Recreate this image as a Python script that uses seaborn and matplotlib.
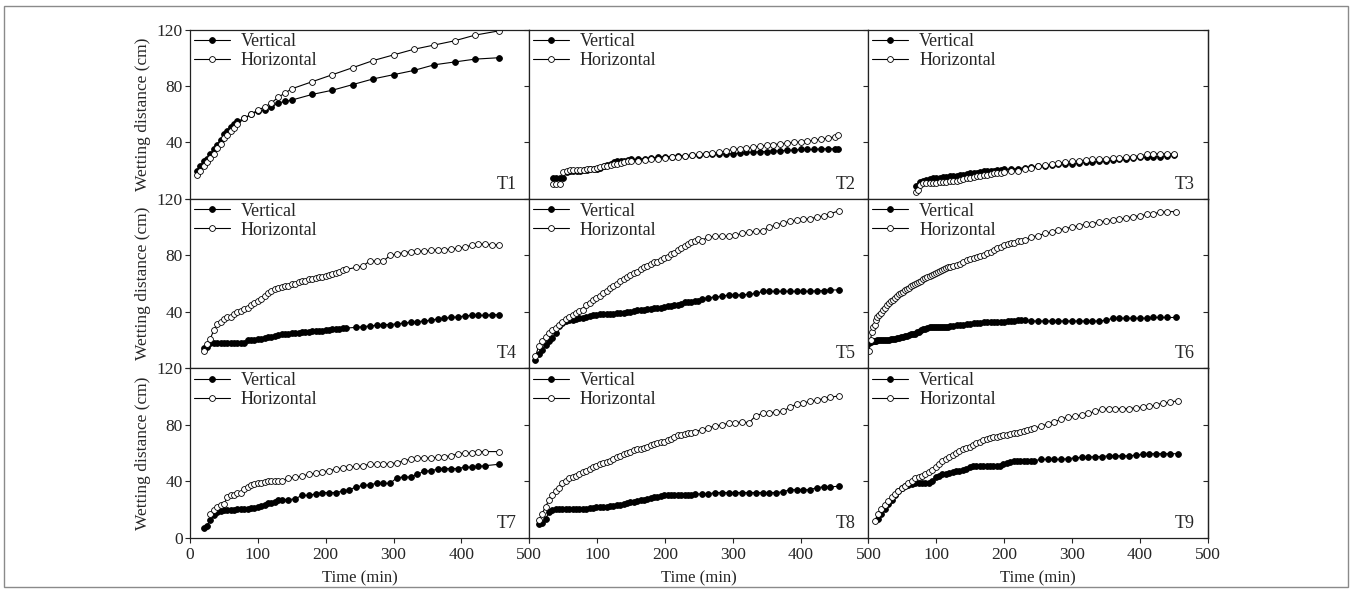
import numpy as np
import pandas as pd
import matplotlib
matplotlib.use("Agg")
import matplotlib.pyplot as plt
from matplotlib.patches import Rectangle
import seaborn as sns

# ---------------- data ----------------
T1_time = [10, 15, 20, 25, 30, 35, 40, 45, 50, 55, 60, 65, 70, 80, 90, 100, 110, 120, 130, 140,
           150, 180, 210, 240, 270, 300, 330, 360, 390, 420, 455]
T1_vertical = [20, 23, 27, 28, 32, 35, 38, 42, 46, 48, 51, 53, 55, 57, 60, 62, 63, 65, 68, 69,
               70, 74, 77, 81, 85, 88, 91, 95, 97, 99, 100]
T1_horizontal = [17, 20, 23, 26, 29, 32, 36, 39, 43, 45, 48, 50, 53, 57, 60, 63, 65, 68, 72, 75,
                 78, 83, 88, 93, 98, 102, 106, 109, 112, 116, 119]

T2_time = [35, 40, 45, 50, 55, 60, 65, 70, 75, 80, 85, 90, 95, 100, 105, 110, 115, 120, 125, 130,
           135, 140, 145, 150, 160, 170, 180, 190, 200, 210, 220, 230, 240, 250, 260, 270, 280, 290,
           300, 310, 320, 330, 340, 350, 360, 370, 380, 390, 400, 410, 420, 430, 440, 450, 455]
T2_vertical = [15, 15, 15, 15, 19, 20, 20, 20, 20, 20.5, 20.5, 21, 21, 21.5, 22, 23, 24, 25, 26, 26.5,
               27, 27, 27.5, 28, 28, 28.5, 29, 29.5, 30, 30, 30.5, 30.5, 31, 31, 31.5, 31.5, 32, 32,
               32, 32.5, 33, 33, 33.5, 33.5, 34, 34, 34.5, 34.5, 35, 35, 35, 35.5, 35.5, 35.5, 35.5]
T2_horizontal = [10.5, 10.5, 10.5, 19, 20, 20.5, 20.5, 20.5, 20.5, 20.5, 21, 21, 21.5, 22, 22.5, 23,
                 23.5, 24, 24.5, 25, 25.5, 26, 26.5, 26.5, 27, 27.5, 28, 28.5, 29, 29.5, 30, 30.5,
                 31, 31.5, 32, 32.5, 33, 34, 35, 35.5, 36, 36.5, 37.5, 38, 38.5, 39, 39.5, 40, 40.5,
                 41, 41.5, 42.5, 43, 44, 45]

T3_time = [70, 73, 76, 80, 85, 90, 95, 100, 105, 110, 115, 120, 125, 130, 135, 140, 145, 150, 155,
           160, 165, 170, 175, 180, 185, 190, 195, 200, 210, 220, 230, 240, 250, 260, 270, 280, 290,
           300, 310, 320, 330, 340, 350, 360, 370, 380, 390, 400, 410, 420, 430, 440, 450]
T3_vertical = [9, 9, 12, 13, 13.5, 14, 14.5, 15, 15, 15.5, 15.5, 16, 16, 16.5, 17, 17, 17.5, 18, 18,
               18.5, 19, 19.5, 19.5, 20, 20, 20.5, 20.5, 21, 21, 21.5, 22, 22.5, 23, 23.5, 24, 24.5,
               25, 25, 25.5, 26, 26, 26.5, 27, 27.5, 28, 28.5, 29, 29.5, 29.5, 30, 30, 30.5, 31]
T3_horizontal = [5, 6, 10, 11, 11.5, 11.5, 11.5, 11.5, 12, 12, 12, 12.5, 13, 13, 13.5, 14, 14.5, 15,
                 15.5, 16, 16.5, 17, 17, 17.5, 18, 18, 18.5, 19, 19.5, 20, 21, 22, 23, 24, 24.5, 25.5,
                 26, 26.5, 27, 27.5, 28, 28, 28.5, 29, 29, 29.5, 30, 30.5, 31.5, 32, 32, 32, 32]

T4_time = [20, 25, 30, 35, 40, 45, 50, 55, 60, 65, 70, 75, 80, 85, 90, 95, 100, 105, 110, 115, 120,
           125, 130, 135, 140, 145, 150, 155, 160, 165, 170, 175, 180, 185, 190, 195, 200, 205, 210,
           215, 220, 225, 230, 245, 255, 265, 275, 285, 295, 305, 315, 325, 335, 345, 355, 365, 375,
           385, 395, 405, 415, 425, 435, 445, 455]
T4_vertical = [14.5, 15, 18, 18, 18, 18, 18, 18, 18, 18, 18, 18, 18, 20, 20, 20, 20.5, 21, 21.5, 22,
               22.5, 23, 23.5, 24, 24, 24.5, 25, 25, 25, 25.5, 25.5, 26, 26.5, 26.5, 26.5, 26.5, 27,
               27, 27.5, 28, 28, 28.5, 28.5, 29, 29.5, 30, 30.5, 31, 31, 31.5, 32, 32.5, 33, 33.5,
               34, 35, 35.5, 36, 36.5, 37, 37.5, 37.5, 37.5, 38, 38]
T4_horizontal = [12, 17, 21, 27, 31.5, 33, 35, 36, 36.5, 38.5, 40, 40.5, 42, 43, 45, 46, 47.5, 49, 51,
                 53, 54.5, 56, 57, 57.5, 58, 58.5, 59.5, 60, 61, 61.5, 62, 63, 63.5, 64, 64.5, 65,
                 65.5, 66, 67, 67.5, 68.5, 69.5, 70, 71.5, 72.5, 76, 76, 76, 80, 81, 82, 82.5, 83, 83,
                 83.5, 84, 84, 84.5, 85, 86, 87, 88, 88, 87.5, 87.5]

T5_time = [9, 14, 19, 24, 29, 34, 39, 44, 49, 54, 59, 64, 69, 74, 79, 84, 89, 94, 99, 104, 109, 114,
           119, 124, 129, 134, 139, 144, 149, 154, 159, 164, 169, 174, 179, 184, 189, 194, 199, 204,
           209, 214, 219, 224, 229, 234, 239, 244, 249, 254, 264, 274, 284, 294, 304, 314, 324, 334,
           344, 354, 364, 374, 384, 394, 404, 414, 424, 434, 444, 456]
T5_vertical = [6, 10, 13, 16.5, 19.5, 21.5, 25, 30, 32, 33.5, 34, 34.5, 35, 35.5, 35.5, 36, 37, 37.5,
               38, 38.5, 38.5, 38.5, 38.5, 38.5, 39, 39.5, 39.5, 40, 40, 40.5, 41, 41.5, 41.5, 42, 42,
               42.5, 43, 43, 43.5, 44, 44, 44.5, 45, 45.5, 47, 47, 47, 47.5, 48, 49, 50, 50.5, 51, 52,
               52, 52, 52.5, 53, 54.5, 54.5, 54.5, 54.5, 54.5, 54.5, 54.5, 54.5, 55, 55, 55.5, 55.5]
T5_horizontal = [8.5, 15.5, 19.5, 22.5, 25, 27, 28.5, 30.5, 33, 35, 36.5, 38, 39.5, 40.5, 41.5, 44.5,
                 46.5, 48.5, 50, 51.5, 53, 55, 57, 58.5, 60, 61.5, 63, 64.5, 66, 67.5, 68.5, 70, 71.5,
                 72.5, 74, 75, 75.5, 76.5, 78, 79, 81, 82, 83.5, 85, 86.5, 88, 89.5, 90.5, 91.5, 90.5,
                 93, 93.5, 93.5, 93.5, 94.5, 95.5, 96.5, 97, 97.5, 100, 101.5, 103, 104, 105, 105.5,
                 106, 107, 108, 109.5, 111.5]

T6_time = [1, 3, 5, 7, 9, 11, 13, 15, 18, 21, 24, 27, 30, 33, 36, 39, 42, 45, 48, 51, 54, 57, 60,
           63, 66, 69, 72, 75, 78, 81, 84, 87, 90, 93, 96, 99, 102, 105, 108, 111, 114, 117, 120, 125,
           130, 135, 140, 145, 150, 155, 160, 165, 170, 175, 180, 185, 190, 195, 200, 205, 210, 215,
           220, 225, 230, 240, 250, 260, 270, 280, 290, 300, 310, 320, 330, 340, 350, 360, 370, 380,
           390, 400, 410, 420, 430, 440, 453]
T6_vertical = [18, 18.5, 19, 19.5, 19.5, 19.5, 20, 20, 20, 20, 20, 20, 20, 20.5, 20.5, 21, 21.5, 21.5,
               22, 22.5, 23, 23, 23.5, 24, 24, 24.5, 25.5, 26, 27, 27.5, 28, 28.5, 29, 29, 29, 29,
               29, 29, 29, 29, 29.5, 29.5, 30, 30, 30.5, 31, 31, 31.5, 31.5, 32, 32, 32, 32.5, 32.5,
               32.5, 33, 33, 33, 33, 33.5, 33.5, 33.5, 34, 34, 34, 33.5, 33.5, 33.5, 33.5, 33.5,
               33.5, 33.5, 33.5, 33.5, 33.5, 33.5, 34, 35.5, 35.5, 35.5, 35.5, 35.5, 35.5, 36, 36,
               36, 36]
T6_horizontal = [12, 20, 26, 29, 31, 34, 36, 37.5, 39.5, 41.5, 43, 44.5, 46, 47.5, 48.5, 50, 51, 52.5,
                 53, 54, 55.5, 56, 57, 58, 59, 59.5, 60.5, 61, 62, 63, 64, 65, 65.5, 66, 67, 67.5,
                 68, 69, 69.5, 70.5, 71, 71.5, 72, 72.5, 73, 74, 75.5, 77, 77.5, 78, 78.5, 79.5,
                 80.5, 81.5, 82.5, 83.5, 85, 86, 87, 88, 88.5, 89, 90, 90.5, 91, 93, 94, 95.5, 96.5,
                 98, 99, 100, 101, 102, 102.5, 103.5, 104.5, 105, 105.5, 106.5, 107.5, 108, 109,
                 109.5, 110.5, 111, 111]

T7_time = [20, 25, 30, 35, 40, 45, 50, 55, 60, 65, 70, 75, 80, 85, 90, 95, 100, 105, 110, 115, 120,
           125, 130, 135, 145, 155, 165, 175, 185, 195, 205, 215, 225, 235, 245, 255, 265, 275, 285,
           295, 305, 315, 325, 335, 345, 355, 365, 375, 385, 395, 405, 415, 425, 435, 455]
T7_vertical = [7, 8.5, 12.5, 16, 18, 19, 19.5, 19.5, 19.5, 19.5, 20, 20, 20.5, 20.5, 21, 21, 21.5,
               22.5, 23.5, 24.5, 24.5, 25.5, 26.5, 27, 27, 27.5, 30, 30, 31, 32, 32, 32, 33, 34, 36,
               37, 37.5, 38.5, 38.5, 38.5, 42.5, 43, 43, 45, 47, 47.5, 48.5, 49, 49, 49, 50, 50,
               50.5, 51, 52]
T7_horizontal = [np.nan, np.nan, 17, 19.5, 21.5, 23.5, 24, 28.5, 30, 30.5, 32, 32, 34.5, 36, 37, 38,
                 38.5, 39, 39.5, 40.5, 40.5, 40.5, 40.5, 40.5, 42, 43, 43.5, 45, 45.5, 46.5, 47.5,
                 48.5, 49.5, 50, 50.5, 51, 52, 52, 52, 52.5, 53, 54.5, 55.5, 56.5, 56.5, 56.5, 57,
                 57.5, 58, 59.5, 60, 60, 61, 61, 61]

T8_time = [14, 19, 24, 29, 34, 39, 44, 49, 54, 59, 64, 69, 74, 79, 84, 89, 94, 99, 104, 109, 114,
           119, 124, 129, 134, 139, 144, 149, 154, 159, 164, 169, 174, 179, 184, 189, 194, 199, 204,
           209, 214, 219, 224, 229, 234, 239, 244, 254, 264, 274, 284, 294, 304, 314, 324, 334, 344,
           354, 364, 374, 384, 394, 404, 414, 424, 434, 444, 457]
T8_vertical = [9.5, 10.5, 13, 18, 19.5, 20, 20, 20, 20, 20, 20, 20, 20, 20, 20, 21, 21, 21.5, 21.5,
               22, 22, 22.5, 22.5, 23, 23.5, 24, 24.5, 25, 25.5, 26, 26.5, 27, 27.5, 28, 28.5, 29,
               29.5, 30, 30, 30, 30, 30, 30, 30, 30, 30.5, 31, 31, 31, 32, 32, 32, 32, 32, 32, 32, 32,
               32, 32, 32.5, 34, 34, 34, 34, 35.5, 36, 36, 36.5]
T8_horizontal = [12.5, 17, 22, 26.5, 30, 33, 35.5, 38.5, 40.5, 42, 43, 44, 45, 46.5, 47.5, 48.5, 50,
                 51, 52, 53, 53.5, 54.5, 55.5, 57, 58, 59, 60, 61, 62, 62.5, 63, 63.5, 64.5, 65.5,
                 66.5, 67, 67.5, 68, 69, 70, 71.5, 72.5, 73, 73.5, 74, 74.5, 75, 76.5, 78, 79, 80, 81,
                 81.5, 82, 81.5, 86.5, 88, 88.5, 89, 89.5, 92.5, 94.5, 95.5, 96.5, 97.5, 98.5, 99.5,
                 100.5]

T9_time = [10, 14, 19, 24, 29, 34, 39, 44, 49, 54, 59, 64, 69, 74, 79, 84, 89, 94, 99, 104, 109,
           114, 119, 124, 129, 134, 139, 144, 149, 154, 159, 164, 169, 174, 179, 184, 189, 194, 199,
           204, 209, 214, 219, 224, 229, 234, 239, 244, 254, 264, 274, 284, 294, 304, 314, 324, 334,
           344, 354, 364, 374, 384, 394, 404, 414, 424, 434, 444, 456]
T9_vertical = [np.nan, 13, 16.5, 20, 24, 27, 30.5, 33, 35, 36.5, 37.5, 38, 38.5, 39, 39, 39, 39, 40.5,
               43, 44, 45, 45, 45.5, 46.5, 47, 47.5, 48, 49, 50, 50.5, 50.5, 50.5, 50.5, 50.5, 50.5,
               50.5, 50.5, 51, 52, 53, 53.5, 54, 54, 54, 54, 54, 54.5, 54.5, 55.5, 55.5, 55.5, 55.5,
               56, 56.5, 57, 57, 57.5, 57.5, 58, 58, 58, 58, 58.5, 59, 59.5, 59.5, 59.5, 59.5, 59.5]
T9_horizontal = [12, 17, 20.5, 23.5, 26, 28.5, 31, 33, 35, 36.5, 38.5, 40.5, 42, 43, 44, 45, 46.5, 48,
                 50, 52, 54, 55.5, 57, 58.5, 60, 61.5, 62.5, 63.5, 64.5, 65.5, 67, 68, 69, 70, 70.5,
                 71, 71.5, 72, 72.5, 73, 73.5, 74, 74.5, 75, 75.5, 76.5, 77, 77.5, 79, 80.5, 82, 84,
                 85.5, 86, 87, 88, 89.5, 91, 91.5, 91.5, 91.5, 91.5, 92, 92.5, 93, 94, 95.5, 96, 97]

panel_names = ["T1", "T2", "T3", "T4", "T5", "T6", "T7", "T8", "T9"]
panel_data = {
    "T1": (T1_time, T1_vertical, T1_horizontal),
    "T2": (T2_time, T2_vertical, T2_horizontal),
    "T3": (T3_time, T3_vertical, T3_horizontal),
    "T4": (T4_time, T4_vertical, T4_horizontal),
    "T5": (T5_time, T5_vertical, T5_horizontal),
    "T6": (T6_time, T6_vertical, T6_horizontal),
    "T7": (T7_time, T7_vertical, T7_horizontal),
    "T8": (T8_time, T8_vertical, T8_horizontal),
    "T9": (T9_time, T9_vertical, T9_horizontal),
}
x_ticks = [0, 100, 200, 300, 400, 500]
y_ticks = [0, 40, 80, 120]
series_labels = ["Vertical", "Horizontal"]

# ---------------- style ----------------
sns.set_style("ticks")
plt.rcParams["font.family"] = ["Liberation Serif", "DejaVu Serif"]

W, H = 1352, 589
fig = plt.figure(figsize=(W / 100, H / 100), dpi=100)
axes = fig.subplots(
    3, 3, sharex=True, sharey=True,
    gridspec_kw=dict(left=190 / W, right=1207.7 / W, top=1 - 29.5 / H,
                     bottom=1 - 537.7 / H, wspace=0, hspace=0))

for i, name in enumerate(panel_names):
    r, c = divmod(i, 3)
    ax = axes[r, c]
    t, v, h = panel_data[name]
    df = pd.DataFrame({"time": t, "Vertical": v, "Horizontal": h})
    sns.lineplot(data=df, x="time", y="Vertical", ax=ax, color="black", lw=0.8,
                 marker="o", markersize=4.2, markerfacecolor="black",
                 markeredgecolor="black", markeredgewidth=0.6,
                 estimator=None, sort=False, label=series_labels[0])
    sns.lineplot(data=df, x="time", y="Horizontal", ax=ax, color="black", lw=0.8,
                 marker="o", markersize=4.2, markerfacecolor="white",
                 markeredgecolor="black", markeredgewidth=0.6,
                 estimator=None, sort=False, label=series_labels[1])
    ax.set_xlim(0, 500)
    ax.set_ylim(0, 120)
    ax.set_xticks(x_ticks)
    ax.set_yticks(y_ticks)
    for sp in ax.spines.values():
        sp.set_visible(True)
        sp.set_linewidth(0.9)
        sp.set_color("#222222")
    ax.tick_params(axis="x", direction="out", length=3.5, width=0.8, pad=3.5,
                   labelsize=12.5, bottom=True, top=False, labelbottom=(r == 2))
    ax.tick_params(axis="y", direction="out", length=3.5, width=0.8, pad=1.5,
                   labelsize=12.5, left=True, right=False, labelleft=(c == 0))
    if c == 2:
        sec = ax.secondary_yaxis("right")
        sec.set_yticks(y_ticks)
        sec.tick_params(direction="in", length=3.5, width=0.8, labelright=False)
        sec.spines["right"].set_linewidth(0.9)
        sec.spines["right"].set_color("#222222")
    ax.set_xlabel("Time (min)" if r == 2 else "", fontsize=12, labelpad=5)
    ax.set_ylabel("Wetting distance (cm)" if c == 0 else "", fontsize=12.5, labelpad=4)
    ax.legend(loc="upper left", frameon=False, fontsize=13, handlelength=2.0,
              handletextpad=0.6, borderpad=0.1, borderaxespad=0.1, labelspacing=0.12)
    ax.text(0.962, 0.035, name, transform=ax.transAxes, ha="right", va="bottom",
            fontsize=13)

# Hide the labels that coincide with the neighbouring panel's labels
for r in range(2):
    axes[r, 0].yaxis.get_major_ticks()[0].label1.set_visible(False)
for c in range(1, 3):
    axes[2, c].xaxis.get_major_ticks()[0].label1.set_visible(False)

fig.add_artist(Rectangle((4 / W, 2 / H), 1344 / W, (H - 8) / H, transform=fig.transFigure,
                         fill=False, edgecolor="#8a8a8a", linewidth=1.0))

fig.savefig("out.png", dpi=100, facecolor="white")
